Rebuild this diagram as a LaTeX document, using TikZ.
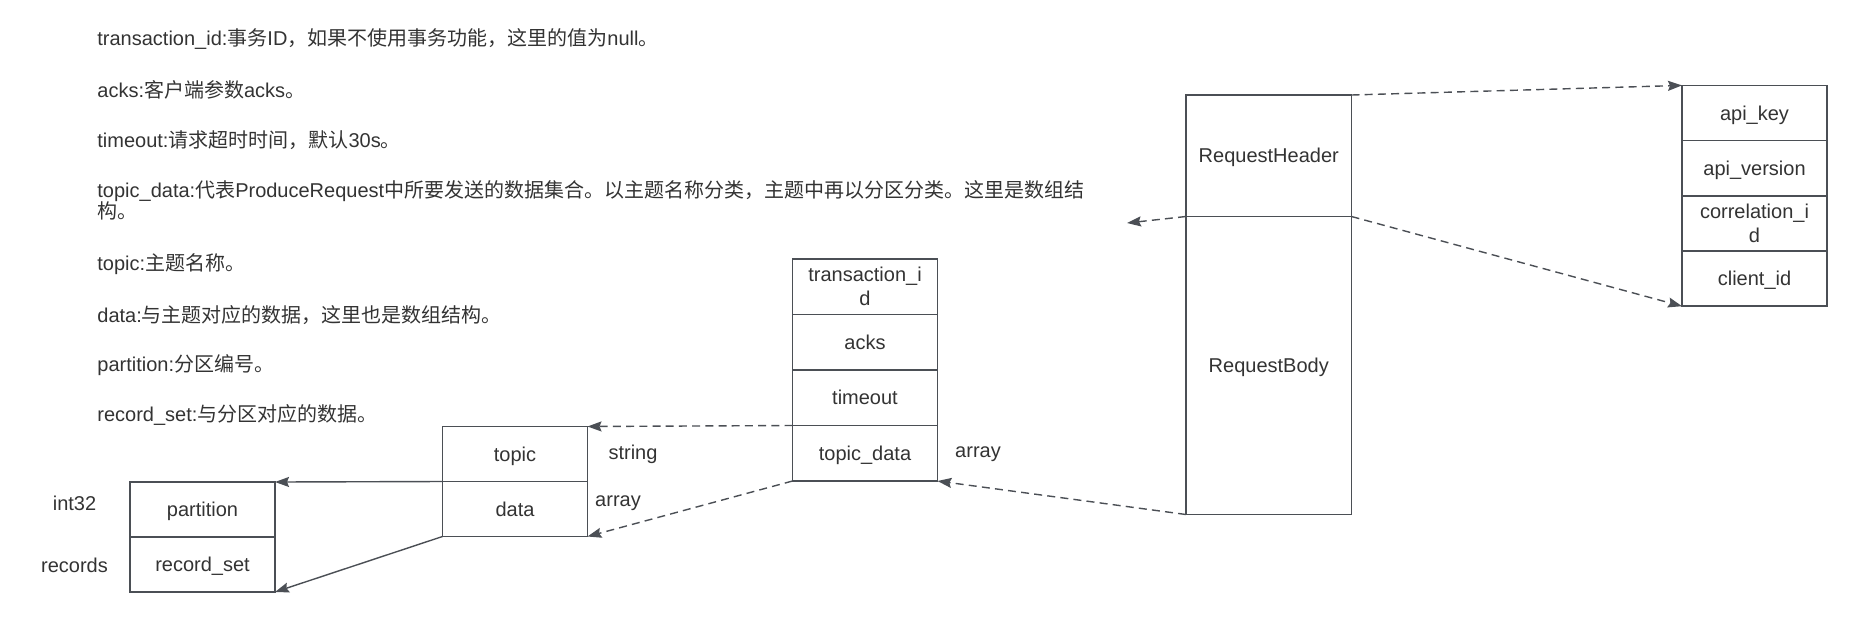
\documentclass[tikz,border=0pt]{standalone}
\usepackage{fontspec}
\usepackage{xcolor}
\usepackage{tikz}
\usetikzlibrary{arrows.meta}
\setmainfont{Liberation Sans}
\newfontfamily\cjk{Noto Sans CJK SC}
\newcommand{\zh}[1]{{\cjk #1}}
\definecolor{ink}{HTML}{333333}
\definecolor{edge}{HTML}{4B4F55}
\tikzset{
  cell/.style={draw=edge, line width=0.85pt, minimum width=72.5pt, minimum height=27.5pt,
    inner sep=0pt, outer sep=0pt, align=center, text=ink, font=\fontsize{10pt}{12pt}\selectfont},
  one/.style={text height=9pt, text depth=2pt},
  link/.style={draw=edge, line width=0.7pt, dash pattern=on 4pt off 2.6pt,
    -{Stealth[length=7pt,width=5pt,inset=1pt]}},
  ref/.style={draw=edge, line width=0.7pt, -{Stealth[length=7pt,width=5pt,inset=1pt]}},
  lab/.style={text=ink, font=\fontsize{10pt}{12pt}\selectfont, inner sep=0pt},
  note/.style={lab, anchor=west, align=left},
}

\begin{document}
\begin{tikzpicture}[x=0.5pt, y=-0.5pt]
  \useasboundingbox (0,0) rectangle (1852,617);
  \node[note] (n1) at (97,39) {transaction\_id:\zh{事务}ID\zh{，如果不使用事务功能，这里的值为}null\zh{。}};
  \node[note] (n2) at (97,90) {acks:\zh{客户端参数}acks\zh{。}};
  \node[note] (n3) at (97,140) {timeout:\zh{请求超时时间，默认}30s\zh{。}};
  \node[note, font=\fontsize{10pt}{10.75pt}\selectfont] (n4) at (97,200.5)
    {topic\_data:\zh{代表}ProduceRequest\zh{中所要发送的数据集合。以主题名称分类，主题中再以分区分类。这里是数组结}\\\zh{构。}};
  \node[note] (n5) at (97,264.5) {topic:\zh{主题名称。}};
  \node[note] (n6) at (97,315) {data:\zh{与主题对应的数据，这里也是数组结构。}};
  \node[note] (n7) at (97,365) {partition:\zh{分区编号。}};
  \node[note] (n8) at (97,415) {record\_set:\zh{与分区对应的数据。}};

  \node[cell, one] (part) at (202.5,509.5) {partition};
  \node[cell, one] (rset) at (202.5,564.5) {record\_set};
  \node[lab] (tint) at (74.5,503) {int32};
  \node[lab] (trec) at (74.5,565) {records};

  \node[cell, one] (topic) at (515,454) {topic};
  \node[cell, one] (data) at (515,509) {data};
  \node[lab] (tstr) at (633,454.5) {string};
  \node[lab] (tarr) at (618,503) {array};

  \node[cell, minimum height=27.75pt] (txid) at (865,286.75) {transaction\_i\\d};
  \node[cell, one, minimum height=27.75pt] (acks) at (865,342.25) {acks};
  \node[cell, one, minimum height=27.75pt] (tout) at (865,397.75) {timeout};
  \node[cell, one, minimum height=27.75pt] (tdata) at (865,453.25) {topic\_data};
  \node[lab] (tarr2) at (978,454) {array};

  \node[cell, one, minimum width=82.75pt, minimum height=60.75pt] (rhead) at (1268.75,155.75) {RequestHeader};
  \node[cell, one, minimum width=82.75pt, minimum height=149pt] (rbody) at (1268.75,365.5) {RequestBody};

  \node[cell, one, minimum height=27.6pt] (akey) at (1754.5,113) {api\_key};
  \node[cell, one, minimum height=27.6pt] (aver) at (1754.5,168.2) {api\_version};
  \node[cell, minimum height=27.6pt] (corr) at (1754.5,223.4) {correlation\_i\\d};
  \node[cell, one, minimum height=27.6pt] (cid) at (1754.5,278.6) {client\_id};

  \coordinate (stub) at (1127,223);
  \draw[link] (rhead.north east) -- (akey.north west);
  \draw[link] (rhead.south east) -- (cid.south west);
  \draw[link] (rhead.south west) -- (stub);
  \draw[link] (rbody.south west) -- (tdata.south east);
  \draw[link] (tdata.north west) -- (topic.north east);
  \draw[link] (tdata.south west) -- (data.south east);
  \draw[ref] (topic.south west) -- (part.north east);
  \draw[ref] (data.south west) -- (rset.south east);
\end{tikzpicture}
\end{document}
